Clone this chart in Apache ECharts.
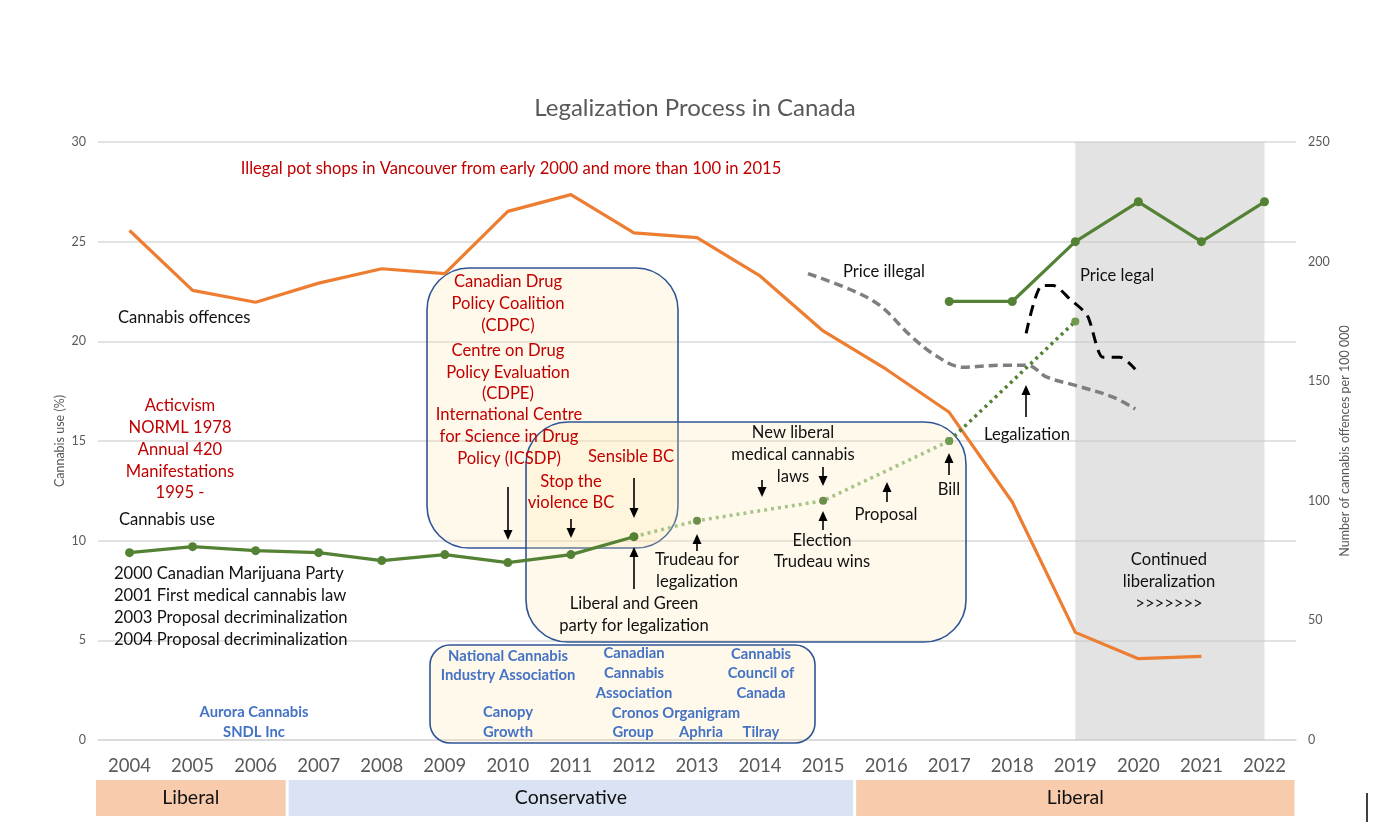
<!DOCTYPE html>
<html>
<head>
<meta charset="utf-8">
<title>Legalization Process in Canada</title>
<script src="https://cdn.jsdelivr.net/npm/echarts@6/dist/echarts.min.js"></script>
<style>
  html, body { margin: 0; padding: 0; background: #fff; }
  #chart { width: 1390px; height: 838px; }
</style>
</head>
<body>
<div id="chart"></div>
<script>
// categories
const years = ['2004', '2005', '2006', '2007', '2008', '2009', '2010', '2011', '2012', '2013',
  '2014', '2015', '2016', '2017', '2018', '2019', '2020', '2021', '2022'];

// cannabis offences per 100 000 (right axis)
const offences = [213, 188, 183, 191, 197, 195, 221, 228, 212, 210, 194, 171, 155, 137, 99.5, 45, 34, 35, null];

// cannabis use (%) (left axis)
const useMeasured = [9.4, 9.7, 9.5, 9.4, 9.0, 9.3, 8.9, 9.3, 10.2, null, null, null, null, null, null, null, null, null, null];
const useTowardsBill = [null, null, null, null, null, null, null, null, 10.2, 11, null, 12, null, 15, null, null, null, null, null];
const useAfterBill = [null, null, null, null, null, null, null, null, null, null, null, null, null, 15, null, 21, null, null, null];
const useLegal = [null, null, null, null, null, null, null, null, null, null, null, null, null, 22, 22, 25, 27, 25, 27];

// price lines, fractional years
const priceIllegalYear = [2014.76, 2015.43, 2015.9, 2016.38, 2016.78, 2017.22, 2017.81, 2018.24, 2018.55, 2018.99, 2019.6, 2019.95];
const priceIllegalVal = [23.4, 22.6, 21.8, 20.3, 19.3, 18.7, 18.8, 18.8, 18.2, 17.8, 17.2, 16.6];
const priceLegalYear = [2018.22, 2018.47, 2018.65, 2018.92, 2019.19, 2019.44, 2019.71, 2019.95];
const priceLegalVal = [20.4, 22.8, 22.8, 22.1, 21.3, 19.2, 19.2, 18.6];

// shaded period
const bandYears = ['2019', '2022'];

// governing party
const partyNames = ['Liberal', 'Conservative', 'Liberal'];
const partyStart = [2003.5, 2006.5, 2015.5];
const partyEnd = [2006.5, 2015.5, 2022.5];

const FONT = 'Lato, "Open Sans", sans-serif';
const RED = '#c00000';
const BLUE = '#4472c4';
const INK = '#111';
const FS = 16.6;   // annotation text size
const BS = 14.8;   // bold blue text size

const chart = echarts.init(document.getElementById('chart'));

function label(x, y, text, color, size, opts) {
  opts = opts || {};
  return {
    type: 'text', z: 30, silent: true,
    style: {
      text: text, x: x, y: y, fill: color,
      font: (opts.bold ? 'bold ' : '') + size + 'px ' + FONT,
      lineHeight: opts.lh || 22,
      align: opts.align || 'center', textAlign: opts.align || 'center',
      verticalAlign: 'middle', textVerticalAlign: 'middle'
    }
  };
}

function arrow(x, yFrom, yTip) {
  const d = yTip > yFrom ? 1 : -1;
  return [
    { type: 'line', z: 30, silent: true, shape: { x1: x, y1: yFrom, x2: x, y2: yTip - d * 8 }, style: { stroke: '#000', lineWidth: 1.6 } },
    { type: 'polygon', z: 30, silent: true, shape: { points: [[x - 4.5, yTip - d * 10], [x + 4.5, yTip - d * 10], [x, yTip]] }, style: { fill: '#000' } }
  ];
}

function box(x, y, w, h, r) {
  return {
    type: 'rect', z: 1, silent: true,
    shape: { x: x, y: y, width: w, height: h, r: r },
    style: { fill: 'rgba(255,230,170,0.24)', stroke: '#2f5597', lineWidth: 1.6 }
  };
}

const graphics = [
  box(427, 268, 251, 280, 42),
  box(526, 422, 440, 220, 42),
  box(430, 645, 385, 98, 20),

  label(511, 169, 'Illegal pot shops in Vancouver from early 2000 and more than 100 in 2015', RED, FS),
  label(118, 318, 'Cannabis offences', INK, FS, { align: 'left' }),
  label(180, 449.5, 'Acticvism\nNORML 1978\nAnnual 420\nManifestations\n1995 -', RED, FS, { lh: 21.8 }),
  label(119, 520, 'Cannabis use', INK, FS, { align: 'left' }),
  label(114, 607, '2000 Canadian Marijuana Party\n2001 First medical cannabis law\n2003 Proposal decriminalization\n2004 Proposal decriminalization', INK, FS, { align: 'left', lh: 22 }),
  label(254, 722, 'Aurora Cannabis\nSNDL Inc', BLUE, BS, { bold: true, lh: 20 }),

  label(508, 304, 'Canadian Drug\nPolicy Coalition\n(CDPC)', RED, FS, { lh: 22 }),
  label(508, 372.5, 'Centre on Drug\nPolicy Evaluation\n(CDPE)', RED, FS, { lh: 21.5 }),
  label(509, 437, 'International Centre\nfor Science in Drug\nPolicy (ICSDP)', RED, FS, { lh: 22 }),
  label(631, 457, 'Sensible BC', RED, FS),
  label(571, 492.5, 'Stop the\nviolence BC', RED, FS, { lh: 21 }),

  label(793, 455, 'New liberal\nmedical cannabis\nlaws', INK, FS, { lh: 22 }),
  label(697, 571, 'Trudeau for\nlegalization', INK, FS, { lh: 22 }),
  label(634, 615, 'Liberal and Green\nparty for legalization', INK, FS, { lh: 22 }),
  label(822, 551.5, 'Election\nTrudeau wins', INK, FS, { lh: 21 }),
  label(886, 515, 'Proposal', INK, FS),
  label(949, 490, 'Bill', INK, FS),
  label(843, 272, 'Price illegal', INK, FS, { align: 'left' }),
  label(1080, 276, 'Price legal', INK, FS, { align: 'left' }),
  label(1027, 435, 'Legalization', INK, FS),
  label(1169, 582, 'Continued\nliberalization\n>>>>>>>', INK, FS, { lh: 22 }),

  label(508, 665.5, 'National Cannabis\nIndustry Association', BLUE, BS, { bold: true, lh: 19.5 }),
  label(508, 722, 'Canopy\nGrowth', BLUE, BS, { bold: true, lh: 20 }),
  label(634, 673, 'Canadian\nCannabis\nAssociation', BLUE, BS, { bold: true, lh: 20 }),
  label(676, 713, 'Cronos Organigram', BLUE, BS, { bold: true }),
  label(633, 732, 'Group', BLUE, BS, { bold: true }),
  label(701, 732, 'Aphria', BLUE, BS, { bold: true }),
  label(761, 732, 'Tilray', BLUE, BS, { bold: true }),
  label(761, 673.5, 'Cannabis\nCouncil of\nCanada', BLUE, BS, { bold: true, lh: 19.5 }),

  { type: 'line', z: 30, silent: true, shape: { x1: 1367, y1: 793, x2: 1367, y2: 822 }, style: { stroke: '#000', lineWidth: 1.5 } }
]
  .concat(arrow(508, 487, 540))
  .concat(arrow(571, 519, 538))
  .concat(arrow(634, 478, 518))
  .concat(arrow(634, 589, 547))
  .concat(arrow(697, 551, 534))
  .concat(arrow(762, 480, 497))
  .concat(arrow(823, 467, 486))
  .concat(arrow(823, 530, 511))
  .concat(arrow(887, 502, 482))
  .concat(arrow(949, 475, 453))
  .concat(arrow(1026, 417, 385));

const partyColor = { Liberal: '#f8cbad', Conservative: '#dae3f3' };

const option = {
  animation: false,
  title: {
    text: 'Legalization Process in Canada',
    left: 'center', top: 91,
    textStyle: { color: '#595959', fontSize: 24, fontWeight: 'normal', fontFamily: FONT }
  },
  grid: [
    { left: 98, right: 94, top: 142, bottom: 98 },
    { left: 98, right: 94, top: 780, height: 36 }
  ],
  xAxis: [
    {
      type: 'category', data: years, gridIndex: 0,
      axisLine: { lineStyle: { color: '#d9d9d9', width: 1.5 } },
      axisTick: { length: 6, lineStyle: { color: '#d9d9d9', width: 1.5 } },
      axisLabel: { color: '#595959', fontSize: 18.5, fontFamily: FONT, margin: 17 }
    },
    { type: 'value', gridIndex: 0, min: 2003.5, max: 2022.5, show: false },
    { type: 'value', gridIndex: 1, min: 2003.5, max: 2022.5, show: false }
  ],
  yAxis: [
    {
      type: 'value', gridIndex: 0, min: 0, max: 30, interval: 5,
      name: 'Cannabis use (%)', nameLocation: 'middle', nameGap: 32, nameMoveOverlap: false,
      nameTextStyle: { color: '#595959', fontSize: 12.5, fontFamily: FONT },
      axisLine: { show: false }, axisTick: { show: false },
      axisLabel: { color: '#595959', fontSize: 12.5, fontFamily: FONT, margin: 12 },
      splitLine: { lineStyle: { color: '#d9d9d9', width: 1.5 } }
    },
    {
      type: 'value', gridIndex: 0, min: 0, max: 250, interval: 50, position: 'right',
      name: 'Number of cannabis offences per 100 000', nameLocation: 'middle', nameGap: 42, nameMoveOverlap: false,
      nameTextStyle: { color: '#595959', fontSize: 12.5, fontFamily: FONT },
      axisLine: { show: false }, axisTick: { show: false },
      axisLabel: { color: '#595959', fontSize: 12.5, fontFamily: FONT, margin: 12 },
      splitLine: { show: false }
    },
    { type: 'value', gridIndex: 1, min: 0, max: 1, show: false }
  ],
  graphic: graphics,
  series: [
    {
      name: 'band', type: 'line', xAxisIndex: 0, yAxisIndex: 0, data: [], z: 1, silent: true,
      markArea: {
        silent: true,
        itemStyle: { color: 'rgba(200,200,200,0.5)' },
        data: [[{ xAxis: bandYears[0] }, { xAxis: bandYears[1] }]]
      }
    },
    {
      name: 'Cannabis offences', type: 'line', xAxisIndex: 0, yAxisIndex: 1, data: offences,
      showSymbol: false, lineStyle: { color: '#ed7d31', width: 3.2 }, itemStyle: { color: '#ed7d31' }
    },
    {
      name: 'Price illegal', type: 'line', xAxisIndex: 1, yAxisIndex: 0, smooth: 0.35,
      data: priceIllegalYear.map((y, i) => [y, priceIllegalVal[i]]),
      showSymbol: false, lineStyle: { color: '#7f7f7f', width: 3.5, type: [9, 5] }
    },
    {
      name: 'Price legal', type: 'line', xAxisIndex: 1, yAxisIndex: 0, smooth: 0.25,
      data: priceLegalYear.map((y, i) => [y, priceLegalVal[i]]),
      showSymbol: false, lineStyle: { color: '#000', width: 3, type: [11, 7] }
    },
    {
      name: 'Cannabis use projected', type: 'line', xAxisIndex: 0, yAxisIndex: 0, data: useTowardsBill,
      connectNulls: true, symbol: 'circle', symbolSize: 8,
      lineStyle: { color: '#a9c48a', width: 3.5, type: [3, 4] }, itemStyle: { color: '#6b8f4a' }
    },
    {
      name: 'Cannabis use after bill', type: 'line', xAxisIndex: 0, yAxisIndex: 0, data: useAfterBill,
      connectNulls: true, symbol: 'circle', symbolSize: 8,
      lineStyle: { color: '#548235', width: 3.5, type: [3, 4] }, itemStyle: { color: '#6f9a4f' }
    },
    {
      name: 'Cannabis use', type: 'line', xAxisIndex: 0, yAxisIndex: 0, data: useMeasured,
      symbol: 'circle', symbolSize: 9,
      lineStyle: { color: '#548235', width: 3.2 }, itemStyle: { color: '#548235' }
    },
    {
      name: 'Cannabis use legal', type: 'line', xAxisIndex: 0, yAxisIndex: 0, data: useLegal,
      symbol: 'circle', symbolSize: 9,
      lineStyle: { color: '#548235', width: 3.2 }, itemStyle: { color: '#548235' }
    },
    {
      name: 'Party', type: 'custom', xAxisIndex: 2, yAxisIndex: 2, silent: true,
      data: partyNames.map((p, i) => [partyStart[i], partyEnd[i], p]),
      renderItem: function (params, api) {
        const a = api.coord([api.value(0), 0]);
        const b = api.coord([api.value(1), 1]);
        const x0 = a[0] + (params.dataIndex === 0 ? -2 : 1.5);
        const x1 = b[0] - 1.5;
        const name = partyNames[params.dataIndex];
        return {
          type: 'group',
          children: [
            { type: 'rect', shape: { x: x0, y: b[1], width: x1 - x0, height: a[1] - b[1] }, style: { fill: partyColor[name] } },
            {
              type: 'text',
              style: {
                text: name, x: (x0 + x1) / 2, y: (a[1] + b[1]) / 2,
                fill: '#111', font: '19.5px ' + FONT,
                align: 'center', verticalAlign: 'middle', textAlign: 'center', textVerticalAlign: 'middle'
              }
            }
          ]
        };
      }
    }
  ]
};

chart.setOption(option);
</script>
</body>
</html>
